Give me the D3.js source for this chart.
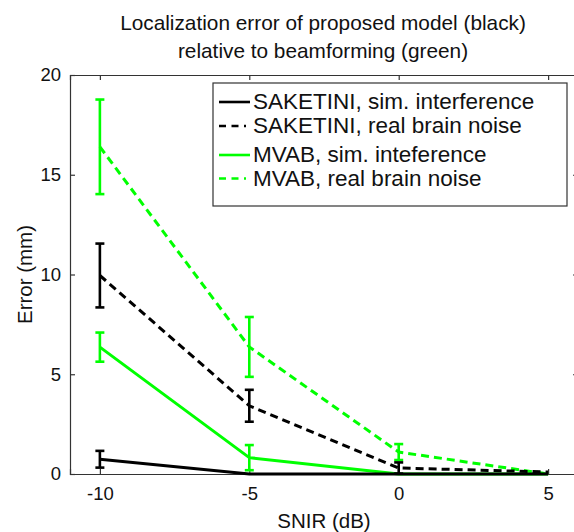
<!DOCTYPE html>
<html>
<head>
<meta charset="utf-8">
<script src="https://cdn.jsdelivr.net/npm/d3@7"></script>
<style>
body { margin: 0; background: #fff; }
svg { display: block; font-family: "Liberation Sans", Arial, sans-serif; }
</style>
</head>
<body>
<div class="chart"></div>
<script>
var width = 574;
var height = 532;

// data
var snir = [-10, -5, 0, 5];
var xTicks = [-10, -5, 0, 5];
var yTicks = [0, 5, 10, 15, 20];

var sakSim = [0.74, 0, 0, 0];
var sakSimErr = [0.42, 0, 0, 0];
var sakReal = [9.95, 3.42, 0.3, 0.1];
var sakRealErr = [1.6, 0.8, 0.28, 0];
var mvabSim = [6.36, 0.82, 0, 0];
var mvabSimErr = [0.73, 0.63, 0, 0];
var mvabReal = [16.4, 6.37, 1.1, 0];
var mvabRealErr = [2.37, 1.5, 0.4, 0];

var seriesNames = ["SAKETINI, sim. interference", "SAKETINI, real brain noise",
	"MVAB, sim. inteference", "MVAB, real brain noise"];

var svg = d3.select(".chart").append("svg")
	.attr("width", width)
	.attr("height", height);

var xScale = d3.scaleLinear()
	.domain([-11, 6])
	.range([70, 578]);
var yScale = d3.scaleLinear()
	.domain([0, 20])
	.range([474, 75]);

// title
var title = svg.append("text")
	.attr("text-anchor", "middle")
	.attr("font-size", 20.8)
	.attr("fill", "#111");
title.append("tspan").attr("x", 323).attr("y", 30).text("Localization error of proposed model (black)");
title.append("tspan").attr("x", 323).attr("y", 57.5).text("relative to beamforming (green)");

// axes box (inward ticks like matlab), plain hyphen for minus
var xAxis = d3.axisBottom(xScale).tickValues(xTicks).tickSize(-5).tickPadding(13)
	.tickFormat(function (d) { return String(d); });
var yAxis = d3.axisLeft(yScale).tickValues(yTicks).tickSize(-5).tickPadding(9);

svg.append("g")
	.attr("transform", "translate(0," + yScale(0) + ")")
	.call(xAxis);
svg.append("g")
	.attr("transform", "translate(" + xScale(-11) + ",0)")
	.call(yAxis);
svg.append("g")
	.attr("transform", "translate(0," + yScale(20) + ")")
	.call(d3.axisTop(xScale).tickValues(xTicks).tickSize(-5).tickFormat(""));
svg.append("g")
	.attr("transform", "translate(" + xScale(6) + ",0)")
	.call(d3.axisRight(yScale).tickValues(yTicks).tickSize(-5).tickFormat(""));

svg.selectAll(".domain").attr("stroke", "#333").attr("stroke-width", 1.2);
svg.selectAll(".tick line").attr("stroke", "#333").attr("stroke-width", 1.2);
svg.selectAll(".tick text")
	.attr("font-size", 18.5)
	.attr("font-family", "Liberation Sans, Arial, sans-serif")
	.attr("fill", "#111");

// axis labels
svg.append("text")
	.attr("x", 324)
	.attr("y", 528)
	.attr("text-anchor", "middle")
	.attr("font-size", 20.5)
	.attr("fill", "#111")
	.text("SNIR (dB)");
svg.append("text")
	.attr("transform", "translate(32," + ((75 + 474) / 2) + ") rotate(-90)")
	.attr("text-anchor", "middle")
	.attr("font-size", 20.5)
	.attr("fill", "#111")
	.text("Error (mm)");

var line = d3.line()
	.x(function (d, i) { return xScale(snir[i]); })
	.y(function (d) { return yScale(d); });

var plot = svg.append("g");

function drawSeries(values, errs, color, dash) {
	plot.append("path")
		.datum(values)
		.attr("d", line)
		.attr("fill", "none")
		.attr("stroke", color)
		.attr("stroke-width", 3)
		.attr("stroke-dasharray", dash);

	var bars = plot.append("g");
	values.forEach(function (v, i) {
		if (errs[i] <= 0) return;
		var x = xScale(snir[i]);
		var top = yScale(v + errs[i]);
		var bot = yScale(v - errs[i]);
		bars.append("line")
			.attr("x1", x).attr("x2", x).attr("y1", top).attr("y2", bot)
			.attr("stroke", color).attr("stroke-width", 2.6);
		[top, bot].forEach(function (y) {
			bars.append("line")
				.attr("x1", x - 4.5).attr("x2", x + 4.5).attr("y1", y).attr("y2", y)
				.attr("stroke", color).attr("stroke-width", 2.6);
		});
	});
}

// green first, black sits on top along the zero line
drawSeries(mvabSim, mvabSimErr, "#00ff00", null);
drawSeries(mvabReal, mvabRealErr, "#00ff00", "8,5");
drawSeries(sakSim, sakSimErr, "#000", null);
drawSeries(sakReal, sakRealErr, "#000", "8,5");

// legend
var legend = svg.append("g");
legend.append("rect")
	.attr("x", 213).attr("y", 83)
	.attr("width", 354).attr("height", 123)
	.attr("fill", "#fff")
	.attr("stroke", "#333")
	.attr("stroke-width", 1.2);

var legendColors = ["#000", "#000", "#00ff00", "#00ff00"];
var legendDash = [null, "7,5.5,7,5.5,2", null, "7,5.5,7,5.5,2"];
var legendY = [109, 133, 162, 185.5];

seriesNames.forEach(function (name, i) {
	legend.append("line")
		.attr("x1", 219).attr("x2", 250)
		.attr("y1", legendY[i] - 7).attr("y2", legendY[i] - 7)
		.attr("stroke", legendColors[i])
		.attr("stroke-width", 2.6)
		.attr("stroke-dasharray", legendDash[i]);
	legend.append("text")
		.attr("x", 253).attr("y", legendY[i])
		.attr("font-size", 22.5)
		.attr("fill", "#111")
		.text(name);
});
</script>
</body>
</html>
